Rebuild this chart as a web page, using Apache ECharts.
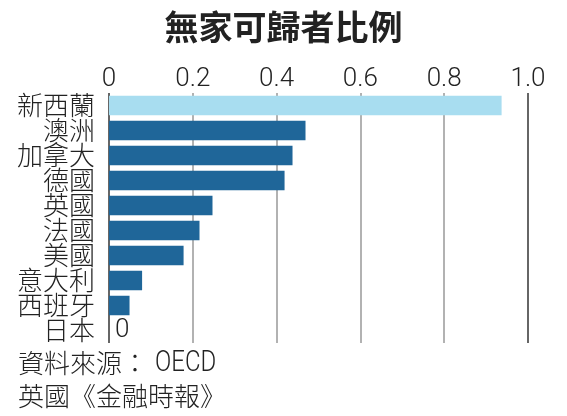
<!DOCTYPE html>
<html><head><meta charset="utf-8">
<script src="https://cdn.jsdelivr.net/npm/echarts@6/dist/echarts.min.js"></script>
<style>html,body{margin:0;padding:0;background:#fff}#c{width:567px;height:416px}</style>
</head><body><div id="c"></div>
<script>
const categories = ['新西蘭','澳洲','加拿大','德國','英國','法國','美國','意大利','西班牙','日本'];
const values = [0.937, 0.469, 0.438, 0.419, 0.247, 0.216, 0.178, 0.079, 0.049, 0];
const highlight = '新西蘭';
const title = '無家可歸者比例';
const source1 = '資料來源：';
const source2 = 'OECD';
const source3 = '英國《金融時報》';

const CJK = '"Noto Sans CJK TC", "Noto Sans CJK SC", sans-serif';
const NUM = '"Liberation Sans Narrow", Roboto, sans-serif';

const chart = echarts.init(document.getElementById('c'), null, {renderer: 'canvas'});
chart.setOption({
  animation: false,
  backgroundColor: '#fff',
  grid: {left: 109, right: 39, top: 93, height: 250, containLabel: false},
  xAxis: {
    type: 'value', position: 'top', min: 0, max: 1, interval: 0.2,
    axisLine: {show: false}, axisTick: {show: false},
    axisLabel: {margin: 1, color: '#222', fontFamily: NUM, fontSize: 26, fontWeight: 300,
      formatter: v => v === 0 ? '0' : v.toFixed(1)},
    splitLine: {show: true, lineStyle: {color: ['#333','#999','#999','#999','#999','#333'], width: 1.5}}
  },
  yAxis: {
    type: 'category', data: categories, inverse: true,
    axisLine: {show: false}, axisTick: {show: false},
    axisLabel: {interval: 0, margin: 14, color: '#222', fontFamily: CJK, fontSize: 26, fontWeight: 300}
  },
  series: [{
    type: 'bar', barCategoryGap: '22%',
    data: values.map((v, i) => ({
      value: v,
      itemStyle: {color: categories[i] === highlight ? '#A8DDF0' : '#1F6699'},
      label: {show: v === 0, position: 'right', distance: 6, color: '#222', fontFamily: NUM, fontSize: 26, fontWeight: 300,
        formatter: '{c}'}
    }))
  }],
  graphic: [
    {type: 'text', left: 'center', top: 10, x: 4,
      style: {text: title, font: 'bold 34px ' + CJK, fill: '#222'}},
    {type: 'text', x: 18, y: 363.5,
      style: {text: source1, textVerticalAlign: 'middle', font: '300 26px ' + CJK, fill: '#222'}},
    {type: 'text', x: 155, y: 363.5, scaleX: 0.8, originX: 0,
      style: {text: source2, textVerticalAlign: 'middle', font: '300 30px ' + NUM, fill: '#222'}},
    {type: 'text', x: 18, y: 396,
      style: {text: source3, textVerticalAlign: 'middle', font: '300 26px ' + CJK, fill: '#222'}}
  ]
});
</script></body></html>
